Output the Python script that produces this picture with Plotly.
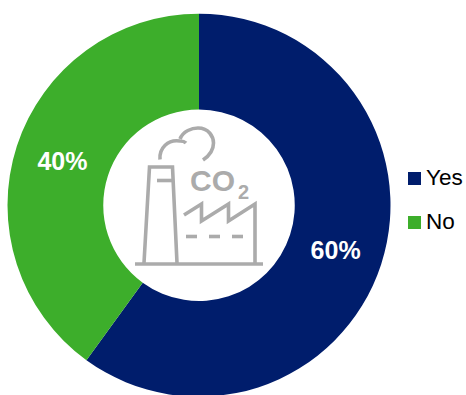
import plotly.graph_objects as go

# Survey shares
labels = ["Yes", "No"]
values = [60, 40]
colors = ["#001D6C", "#3DAE2B"]

WIDTH, HEIGHT = 466, 398
ICON = "#ABABAB"
FONT = "Liberation Sans, Arial, sans-serif"


def px(x):
    return x / WIDTH


def py(y):
    return 1 - y / HEIGHT


def path(points):
    """SVG polyline in paper coordinates from canvas pixels."""
    return "M" + " L".join(f"{px(x):.5f},{py(y):.5f}" for x, y in points)


def curve(start, *segments):
    """SVG cubic path in paper coordinates from canvas pixels."""
    d = f"M{px(start[0]):.5f},{py(start[1]):.5f}"
    for c1, c2, end in segments:
        d += " C" + " ".join(f"{px(x):.5f},{py(y):.5f}" for x, y in (c1, c2, end))
    return d


def stroke(d, width=3.6):
    return dict(type="path", xref="paper", yref="paper", path=d,
                line=dict(color=ICON, width=width))


fig = go.Figure(go.Pie(
    labels=labels,
    values=values,
    marker=dict(colors=colors, line=dict(width=0)),
    hole=0.5,
    sort=False,
    direction="clockwise",
    rotation=0,
    textinfo="percent",
    texttemplate="<b>%{percent:.0%}</b>",
    textposition="inside",
    insidetextorientation="horizontal",
    textfont=dict(family=FONT, size=25, color="white"),
    domain=dict(x=[7.5 / WIDTH, 390.5 / WIDTH], y=[1 / HEIGHT, 1 - 13.5 / HEIGHT]),
    showlegend=False,
))

# Factory pictogram in the hole of the ring
shapes = [
    stroke(path([(144, 263), (149.5, 167), (172.5, 167), (177, 263)])),
    stroke(path([(157, 180.5), (172, 180.5)])),
    stroke(path([(135, 264), (263, 264)])),
    stroke(path([(184, 215), (201.5, 204), (201.5, 221), (228.5, 204),
                 (228.5, 221), (255, 204), (255, 264)])),
    stroke(path([(186, 236.5), (197, 236.5)])),
    stroke(path([(209, 236.5), (220, 236.5)])),
    stroke(path([(232, 236.5), (243, 236.5)])),
    stroke(curve((160, 159.5),
                 ((159, 148), (168, 139), (180, 141)),
                 ((182, 141), (184, 141), (186, 143)))),
    stroke(curve((180, 139),
                 ((183, 131), (192, 128), (198, 128)),
                 ((209, 128), (213.5, 137), (213.5, 143)),
                 ((213.5, 150), (209, 156), (203, 160)))),
]

# Legend swatches
swatch_x0, swatch_x1 = 408, 421
for y_mid, color in zip((178.5, 222.5), colors):
    shapes.append(dict(type="rect", xref="paper", yref="paper",
                       x0=px(swatch_x0), x1=px(swatch_x1),
                       y0=py(y_mid + 6.5), y1=py(y_mid - 6.5),
                       fillcolor=color, line=dict(width=0)))

annotations = [
    dict(text="<b>CO</b>", x=px(212.5), y=py(180.5), xref="paper", yref="paper",
         showarrow=False, font=dict(family=FONT, size=30, color=ICON),
         xanchor="center", yanchor="middle"),
    dict(text="<b>2</b>", x=px(243), y=py(191.5), xref="paper", yref="paper",
         showarrow=False, font=dict(family=FONT, size=20, color=ICON),
         xanchor="center", yanchor="middle"),
]
for y_mid, label in zip((177, 221.5), labels):
    annotations.append(dict(text=label, x=px(424), y=py(y_mid), xref="paper",
                            yref="paper", showarrow=False,
                            font=dict(family=FONT, size=22.5, color="#000000"),
                            xanchor="left", yanchor="middle"))

fig.update_layout(
    width=WIDTH,
    height=HEIGHT,
    autosize=False,
    margin=dict(l=0, r=0, t=0, b=0),
    paper_bgcolor="white",
    plot_bgcolor="white",
    shapes=shapes,
    annotations=annotations,
)

# The ring runs just past the bottom of the page, so keep the page from scrolling
fig.write_html("out.html", config=dict(displayModeBar=False),
               post_script="document.documentElement.style.overflow='hidden';"
                           "document.body.style.overflow='hidden';")
